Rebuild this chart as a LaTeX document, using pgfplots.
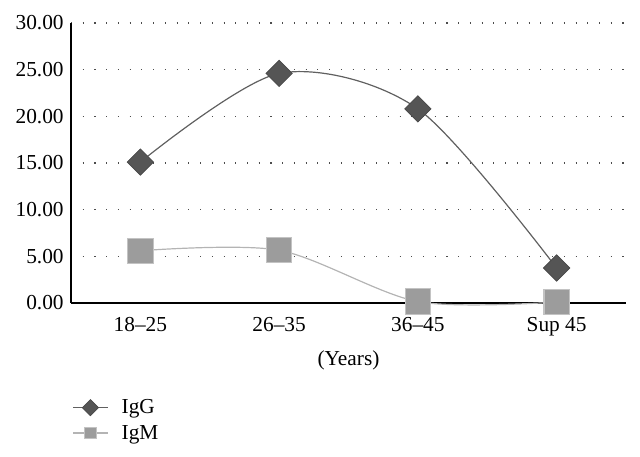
\documentclass[border=0pt]{standalone}
\usepackage{fontspec}
\setmainfont{Liberation Serif}
\usepackage{pgfplots}
\pgfplotsset{compat=1.18}
\definecolor{iggline}{HTML}{606060}
\definecolor{iggfill}{HTML}{555555}
\definecolor{igmline}{HTML}{B4B4B4}
\definecolor{igmfill}{HTML}{9C9C9C}
\begin{document}
\begin{tikzpicture}[x=1pt,y=1pt]
\begin{axis}[
  name=ax,
  scale only axis,
  width=416.25pt, height=210pt,
  xmin=-0.5, xmax=3.5,
  ymin=0, ymax=30,
  xtick={0,1,2,3},
  xticklabels={18--25,26--35,36--45,Sup 45},
  ytick={0,5,10,15,20,25,30},
  yticklabel style={/pgf/number format/fixed,/pgf/number format/fixed zerofill,/pgf/number format/precision=2, xshift=-2pt},
  /pgf/number format/assume math mode=true,
  axis x line=bottom, axis y line=left,
  axis line style={-, black, line width=0.9pt},
  major tick length=0pt,
  ymajorgrids,
  major grid style={black!70, line width=0.8pt, dash pattern=on 0.8pt off 8pt},
  tick label style={font=\fontsize{16}{18}\selectfont},
  xticklabel style={yshift=-7pt},
  xlabel={(Years)},
  xlabel style={font=\fontsize{16}{18}\selectfont, yshift=-4pt},
  clip=false,
  legend style={draw=none, fill=none, at={(rel axis cs:-0.005,-0.325)}, anchor=north west,
    font=\fontsize{16}{18}\selectfont, row sep=3pt, cells={anchor=west}},
  legend image code/.code={\draw[mark repeat=2,mark phase=2,#1,mark size=4.3pt] plot coordinates {(0pt,0pt)(13pt,0pt)(26pt,0pt)};},
]
\addplot[smooth, tension=0.5, color=iggline, line width=0.9pt,
  mark=square*, mark size=7pt, mark options={rotate=45, fill=iggfill, draw=iggfill!85!black, line width=0.5pt}]
  coordinates {(0,15.1) (1,24.6) (2,20.8) (3,3.75)};
\addlegendentry{\hspace{8pt}IgG}
\addplot[smooth, tension=0.5, color=igmline, line width=0.9pt,
  mark=square*, mark size=9.5pt, mark options={fill=igmfill, draw=igmline!80!white, line width=0.8pt}]
  coordinates {(0,5.6) (1,5.65) (2,0.15) (3,0.1)};
\addlegendentry{\hspace{8pt}IgM}
\end{axis}
\useasboundingbox ([xshift=-53.25pt,yshift=-114.75pt]ax.south west) rectangle ([xshift=10.5pt,yshift=17.25pt]ax.north east);
\end{tikzpicture}
\end{document}
